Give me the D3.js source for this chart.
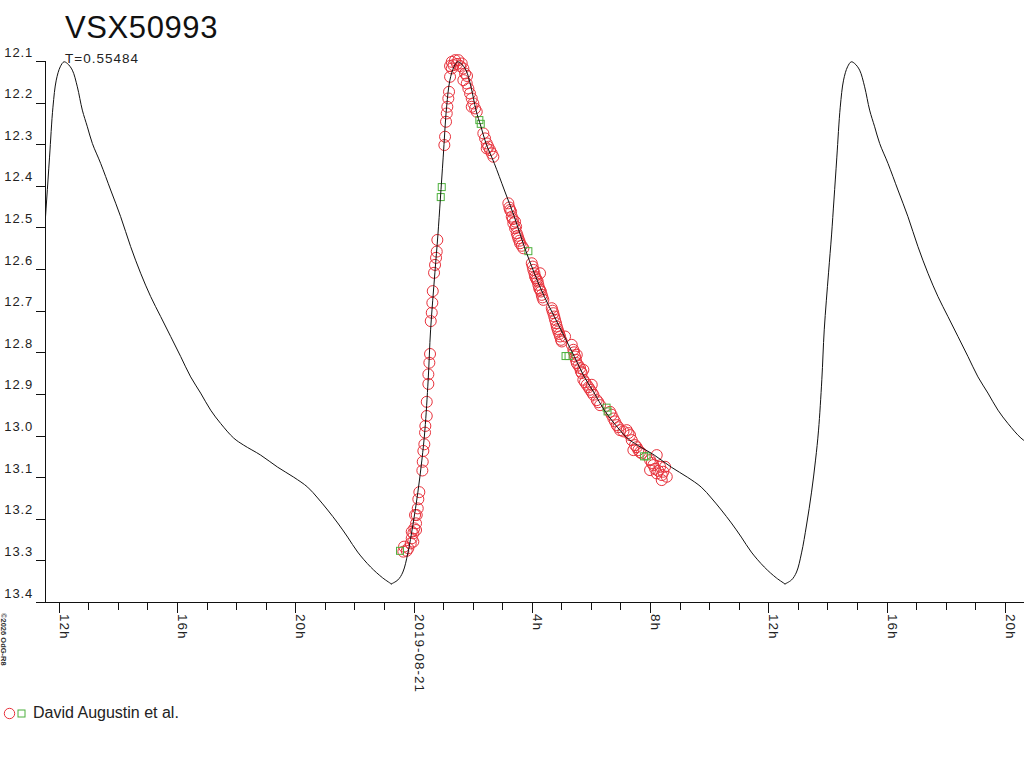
<!DOCTYPE html>
<html>
<head>
<meta charset="utf-8">
<script src="https://cdn.jsdelivr.net/npm/d3@7"></script>
<style>
  html, body { margin: 0; padding: 0; background: #fff; }
  svg { display: block; }
  text { font-family: "Liberation Sans", Arial, "DejaVu Sans", sans-serif; fill: #222; }
</style>
</head>
<body>
<svg id="chart" width="1024" height="768"></svg>
<script>
// ---------------- DATA ----------------
const starName = "VSX50993";
const periodLabel = "T=0.55484";
const observer = "David Augustin et al.";
const copyrightText = "\u00a92026 OdG-R8";

// visible time range (UTC)
const timeDomain = ["2019-08-20T11:32:00Z", "2019-08-21T20:39:00Z"];
const magDomain = [12.1, 13.4];
const magTicks = [12.1, 12.2, 12.3, 12.4, 12.5, 12.6, 12.7, 12.8, 12.9, 13.0, 13.1, 13.2, 13.3, 13.4];
const refDay = "2019-08-21T00:00:00Z";      // hours below are counted from this instant
const maximaHours = [-11.826, 1.49, 14.806]; // times of light maxima (hours from refDay)

// light-curve template: hours from maximum, magnitude
const curveHours = [-2.256, -2.020, -1.850, -1.681, -1.512, -1.343, -1.208, -1.106, -0.995, -0.913,
  -0.768, -0.666, -0.585, -0.487, -0.372, -0.260, -0.125, 0.000, 0.115, 0.284, 0.453, 0.622, 0.792,
  0.961, 1.242, 1.580, 1.918, 2.256, 2.595, 2.933, 3.271, 3.610, 3.948, 4.286, 4.624, 4.963, 5.301,
  5.741, 6.079, 6.654, 7.229, 7.771, 8.244, 8.582, 8.921, 9.259, 9.597, 9.936, 10.375, 10.781, 11.086];
const curveMag = [13.357, 13.347, 13.328, 13.282, 13.215, 13.136, 13.059, 12.987, 12.866, 12.746,
  12.609, 12.518, 12.434, 12.331, 12.211, 12.146, 12.114, 12.102, 12.106, 12.122, 12.162, 12.218, 12.258,
  12.298, 12.346, 12.410, 12.474, 12.546, 12.610, 12.666, 12.714, 12.762, 12.810, 12.859, 12.898, 12.939, 12.971,
  13.006, 13.023, 13.047, 13.076, 13.100, 13.124, 13.150, 13.179, 13.210, 13.244, 13.280, 13.316, 13.342, 13.357];

// observations (red circles): [hours from refDay, magnitude]
const redObs = [
  [0.805,12.530],[0.785,12.558],[0.761,12.573],[0.727,12.590],[0.694,12.609],[0.650,12.653],[0.636,12.681],
  [0.616,12.705],[0.582,12.725],[0.558,12.804],[0.535,12.825],[0.501,12.853],[0.501,12.876],[0.447,12.919],
  [0.447,12.953],[0.399,12.977],[0.389,12.993],[0.365,13.021],[0.332,13.037],[0.311,13.063],[0.298,13.084],
  [0.196,13.136],[0.162,13.153],[0.142,13.175],[0.108,13.191],[0.085,13.211],[0.027,13.223],[-0.007,13.235],
  [-0.061,13.247],[-0.095,13.259],[-0.176,13.271],[-0.230,13.277],[0.085,13.227],[-0.007,13.255],[-0.321,13.267],
  [-0.345,13.279],[0.051,13.191],[-0.061,13.231],
  [1.042,12.302],[1.066,12.282],[1.099,12.246],[1.123,12.226],[1.143,12.210],[1.177,12.190],[1.201,12.174],
  [1.235,12.138],[1.292,12.118],
  [1.292,12.102],[1.404,12.098],[1.516,12.098],[1.631,12.106],[1.235,12.112],[1.346,12.110],[1.685,12.118],
  [1.742,12.130],[1.685,12.146],[1.800,12.154],[1.854,12.166],[1.911,12.178],[1.969,12.190],[2.023,12.202],
  [2.081,12.214],[1.969,12.210],[2.138,12.222],[1.472,12.107],[1.573,12.112],[1.809,12.136],
  [2.361,12.274],[2.419,12.286],[2.476,12.298],[2.530,12.306],[2.588,12.314],[2.645,12.322],[2.700,12.330],
  [2.476,12.310],
  [3.207,12.442],[3.265,12.458],[3.322,12.474],[3.376,12.490],[3.434,12.502],[3.491,12.514],[3.545,12.526],
  [3.603,12.538],[3.715,12.550],[3.434,12.486],
  [3.24,12.452],[3.30,12.462],[3.36,12.480],[3.47,12.498],[3.52,12.520],[3.58,12.532],[3.66,12.544],
  [3.999,12.586],[4.053,12.602],[4.110,12.618],[4.168,12.626],[4.222,12.638],[4.279,12.650],[4.337,12.662],
  [4.391,12.674],[4.279,12.610],
  [4.03,12.594],[4.09,12.610],[4.14,12.622],[4.20,12.630],[4.25,12.646],[4.31,12.654],[4.36,12.668],
  [4.675,12.694],[4.729,12.706],[4.787,12.722],[4.844,12.738],[4.898,12.750],[4.956,12.762],[5.013,12.774],
  [4.70,12.700],[4.76,12.714],[4.82,12.730],[4.87,12.744],[4.93,12.756],[4.99,12.770],
  [5.406,12.794],[5.463,12.810],[5.521,12.826],[5.633,12.838],[5.690,12.850],[5.744,12.866],[5.859,12.878],
  [5.971,12.890],[6.083,12.902],
  [5.43,12.800],[5.49,12.818],[5.58,12.832],[5.66,12.846],[5.80,12.872],[5.92,12.884],[6.03,12.896],
  [5.125,12.762],[5.352,12.782],[5.521,12.806],[5.744,12.842],[6.028,12.878],[6.197,12.915],[6.309,12.927],
  [6.647,12.943],[6.759,12.959],[6.874,12.975],[6.986,12.987],[7.212,12.987],[7.324,12.999],[7.381,13.011],
  [7.493,13.023],[7.605,13.035],[7.720,13.043],[7.436,13.035],
  [6.25,12.920],[6.70,12.950],[6.81,12.966],[6.93,12.980],[7.10,12.990],[7.27,12.994],[7.55,13.028],[7.66,13.040],
  [8.001,13.059],[8.227,13.047],[8.112,13.071],[8.339,13.075],[8.450,13.087],[8.566,13.099],[8.227,13.091],
  [8.396,13.107],[8.001,13.083],[8.508,13.075],
  [8.06,13.066],[8.17,13.080],[8.28,13.085],[8.40,13.095]
];
// observations (green squares): [hours from refDay, magnitude]
const greenObs = [
  [-0.457,13.277],[0.920,12.427],[0.954,12.403],[2.226,12.242],[2.273,12.251],[3.884,12.557],
  [5.142,12.809],[5.244,12.809],[6.529,12.933],[6.563,12.942],[7.798,13.050],[7.882,13.050]
];

// ---------------- CHART ----------------
const svg = d3.select("#chart");
const plot = { left: 45, right: 1024, top: 61, bottom: 602 };
const HOUR = 3600 * 1000;
const ref = new Date(refDay).getTime();
const toDate = h => new Date(ref + h * HOUR);

const x = d3.scaleUtc().domain(timeDomain.map(d => new Date(d))).range([plot.left, plot.right]);
const y = d3.scaleLinear().domain(magDomain).range([plot.top, plot.bottom]);

svg.append("defs").append("clipPath").attr("id", "clip")
  .append("rect").attr("x", plot.left).attr("y", 0).attr("width", plot.right - plot.left).attr("height", plot.bottom);

// title
svg.append("text").attr("x", 65).attr("y", 38).style("font-size", "31px")
  .style("letter-spacing", "0.6px").style("fill", "#111").text(starName);
svg.append("text").attr("x", 65).attr("y", 63).style("font-size", "13.5px")
  .style("letter-spacing", "1px").text(periodLabel);

// y axis
const yAxis = svg.append("g");
yAxis.append("line").attr("x1", plot.left + 0.5).attr("x2", plot.left + 0.5)
  .attr("y1", y(magDomain[0])).attr("y2", y(magDomain[1])).attr("stroke", "#111");
yAxis.selectAll("line.tick").data(magTicks).join("line").attr("class", "tick")
  .attr("x1", 36).attr("x2", plot.left)
  .attr("y1", d => Math.round(y(d)) + 0.5).attr("y2", d => Math.round(y(d)) + 0.5).attr("stroke", "#111");
yAxis.selectAll("text").data(magTicks).join("text")
  .attr("x", 33).attr("y", d => y(d) - 4.5).attr("text-anchor", "end")
  .style("font-size", "13px").style("letter-spacing", "0.85px").text(d => d.toFixed(1));

// x axis
const xAxis = svg.append("g");
xAxis.append("line").attr("x1", 36).attr("x2", plot.right)
  .attr("y1", plot.bottom + 0.5).attr("y2", plot.bottom + 0.5).attr("stroke", "#111");
const hourTicks = x.ticks(d3.utcHour.every(1));
const majorTicks = x.ticks(d3.utcHour.every(4));
xAxis.selectAll("line.minor").data(hourTicks).join("line").attr("class", "minor")
  .attr("x1", d => Math.round(x(d)) + 0.5).attr("x2", d => Math.round(x(d)) + 0.5)
  .attr("y1", plot.bottom).attr("y2", d => d.getUTCHours() % 4 === 0 ? plot.bottom + 11 : plot.bottom + 8)
  .attr("stroke", "#111");
const fmt = d => d.getUTCHours() === 0 ? d3.utcFormat("%Y-%m-%d")(d) : d.getUTCHours() + "h";
xAxis.selectAll("text").data(majorTicks).join("text")
  .attr("transform", d => `translate(${Math.round(x(d)) + 0.5},614) rotate(90)`)
  .style("font-size", "13.5px").style("letter-spacing", "1px").text(fmt);

// copyright
svg.append("text").attr("transform", "translate(1,613) rotate(90)")
  .style("font-size", "7.5px").style("font-weight", "bold").style("fill", "#333").text(copyrightText);

// observations
const g = svg.append("g").attr("clip-path", "url(#clip)");
const red = "#e8323c", green = "#4cb03c";
g.selectAll("circle.obs").data(redObs).join("circle").attr("class", "obs")
  .attr("cx", d => x(toDate(d[0]))).attr("cy", d => y(d[1])).attr("r", 5.5)
  .attr("fill", "none").attr("stroke", red).attr("stroke-width", 1);
g.selectAll("rect.obs").data(greenObs).join("rect").attr("class", "obs")
  .attr("x", d => x(toDate(d[0])) - 3.5).attr("y", d => y(d[1]) - 3.5)
  .attr("width", 7).attr("height", 7)
  .attr("fill", "none").attr("stroke", green).attr("stroke-width", 1);

// model light curve, one cycle per maximum
const line = d3.line().x(d => x(toDate(d[0]))).y(d => y(d[1])).curve(d3.curveCatmullRom.alpha(0.5));
maximaHours.forEach(m => {
  const pts = curveHours.map((h, i) => [m + h, curveMag[i]]);
  g.append("path").attr("d", line(pts)).attr("fill", "none").attr("stroke", "#111").attr("stroke-width", 1);
});

// legend
svg.append("circle").attr("cx", 9.5).attr("cy", 713.5).attr("r", 5.2)
  .attr("fill", "none").attr("stroke", red);
svg.append("rect").attr("x", 18).attr("y", 710).attr("width", 7).attr("height", 7)
  .attr("fill", "none").attr("stroke", green);
svg.append("text").attr("x", 33).attr("y", 718).style("font-size", "16px").text(observer);
</script>
</body>
</html>
